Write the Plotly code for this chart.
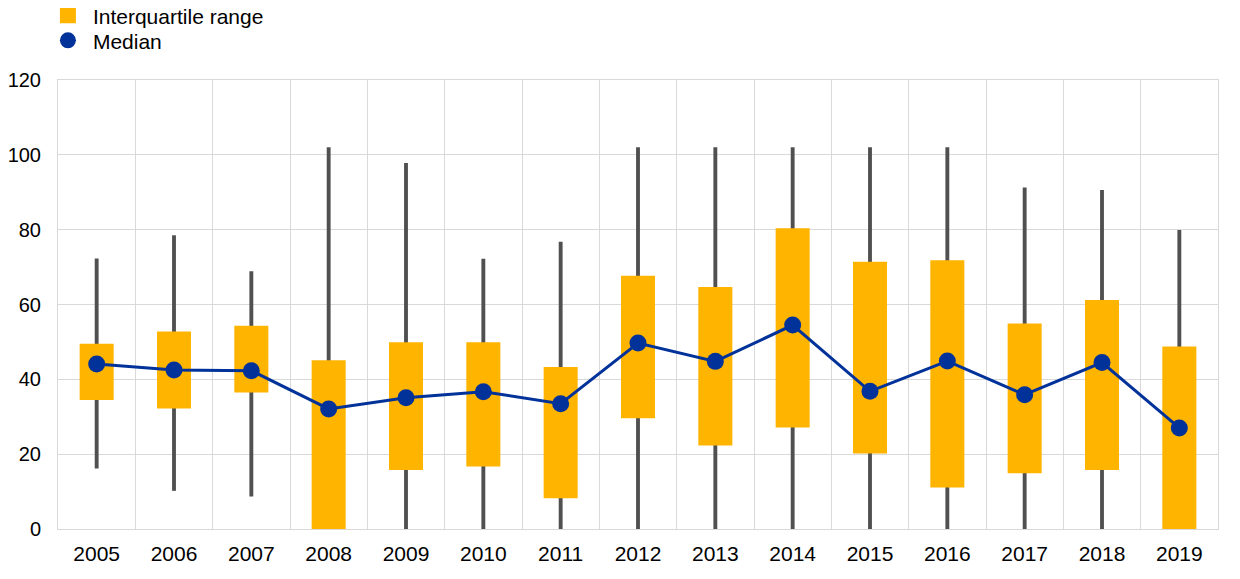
import plotly.graph_objects as go

years = ["2005", "2006", "2007", "2008", "2009", "2010", "2011", "2012",
         "2013", "2014", "2015", "2016", "2017", "2018", "2019"]
whisker_low = [16.2, 10.2, 8.7, 0, 0, 0, 0, 0, 0, 0, 0, 0, 0, 0, 0]
whisker_high = [72.3, 78.5, 68.9, 102.0, 97.8, 72.2, 76.8, 102.0, 102.0, 102.0, 102.0, 102.0, 91.3, 90.6, 79.9]
q1 = [34.5, 32.2, 36.5, 0, 15.8, 16.7, 8.2, 29.6, 22.3, 27.1, 20.2, 11.1, 14.9, 15.8, 0]
q3 = [49.5, 52.8, 54.3, 45.1, 49.9, 49.9, 43.3, 67.7, 64.7, 80.4, 71.4, 71.8, 54.9, 61.2, 48.8]
median = [44.1, 42.5, 42.3, 32.1, 35.1, 36.7, 33.5, 49.7, 44.8, 54.5, 36.8, 44.9, 35.9, 44.5, 27.0]

ORANGE = "#FFB400"
BLUE = "#003299"
GREY = "#505050"
FONT = "Liberation Sans, Arial, sans-serif"

fig = go.Figure()

# whiskers
fig.add_trace(go.Bar(
    x=years, y=[h - l for h, l in zip(whisker_high, whisker_low)], base=whisker_low,
    width=0.05, marker=dict(color=GREY, line=dict(width=0)), showlegend=False,
    hoverinfo="skip"))

# interquartile range boxes
fig.add_trace(go.Bar(
    x=years, y=[b - a for a, b in zip(q1, q3)], base=q1,
    width=0.44, marker=dict(color=ORANGE, line=dict(width=0)), showlegend=False,
    name="Interquartile range"))

# median
fig.add_trace(go.Scatter(
    x=years, y=median, mode="lines+markers",
    line=dict(color=BLUE, width=3), marker=dict(color=BLUE, size=17),
    showlegend=False, name="Median"))

# legend-only entries
fig.add_trace(go.Scatter(
    x=[None], y=[None], mode="markers", name="Interquartile range",
    marker=dict(symbol="square", color=ORANGE, size=16), legend="legend"))
fig.add_trace(go.Scatter(
    x=[None], y=[None], mode="markers", name="Median",
    marker=dict(symbol="circle", color=BLUE, size=16), legend="legend2"))

legend_common = dict(x=-0.013, xanchor="left", yref="paper", yanchor="top",
                     font=dict(size=21), bgcolor="rgba(0,0,0,0)", itemwidth=40)

fig.update_layout(
    width=1232, height=571,
    margin=dict(l=50, r=22, t=72, b=50, autoexpand=False),
    paper_bgcolor="white", plot_bgcolor="white",
    barmode="overlay",
    font=dict(family=FONT, size=21, color="#000000"),
    legend=dict(y=1.1889, **legend_common),
    legend2=dict(y=1.1332, **legend_common),
    xaxis=dict(type="category", tickson="boundaries", showgrid=True,
               gridcolor="#d9d9d9", gridwidth=1, showline=True, linecolor="#d9d9d9",
               mirror=True, ticks="", ticklabelstandoff=6,
               tickfont=dict(size=21), range=[-0.5, 14.5], automargin=False),
    yaxis=dict(range=[0, 120], tickvals=[0, 20, 40, 60, 80, 100, 120],
               showgrid=True, gridcolor="#d9d9d9", gridwidth=1, showline=True,
               linecolor="#d9d9d9", mirror=True, ticks="outside", ticklen=12,
               tickcolor="rgba(0,0,0,0)", tickfont=dict(size=20), zeroline=False,
               automargin=False),
)

fig.write_html("out.html")
